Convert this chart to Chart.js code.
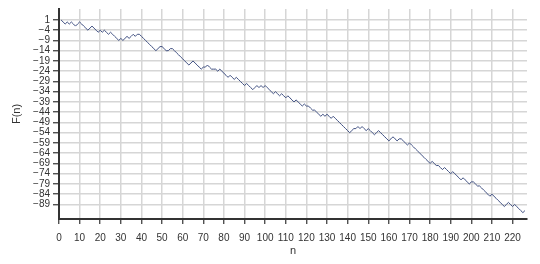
<!DOCTYPE html>
<html><head><meta charset="utf-8">
<script src="https://cdn.jsdelivr.net/npm/chart.js@4.4.1/dist/chart.umd.min.js"></script>
<style>html,body{margin:0;padding:0;background:#fff;}</style>
</head><body>
<canvas id="c" width="540" height="264" style="width:540px;height:264px;display:block"></canvas>
<script>
const nValues = [
  1,2,3,4,5,6,7,8,9,10,11,12,13,14,15,16,17,18,19,20,
  21,22,23,24,25,26,27,28,29,30,31,32,33,34,35,36,37,38,39,40,
  41,42,43,44,45,46,47,48,49,50,51,52,53,54,55,56,57,58,59,60,
  61,62,63,64,65,66,67,68,69,70,71,72,73,74,75,76,77,78,79,80,
  81,82,83,84,85,86,87,88,89,90,91,92,93,94,95,96,97,98,99,100,
  101,102,103,104,105,106,107,108,109,110,111,112,113,114,115,116,117,118,119,120,
  121,122,123,124,125,126,127,128,129,130,131,132,133,134,135,136,137,138,139,140,
  141,142,143,144,145,146,147,148,149,150,151,152,153,154,155,156,157,158,159,160,
  161,162,163,164,165,166,167,168,169,170,171,172,173,174,175,176,177,178,179,180,
  181,182,183,184,185,186,187,188,189,190,191,192,193,194,195,196,197,198,199,200,
  201,202,203,204,205,206,207,208,209,210,211,212,213,214,215,216,217,218,219,220,
  221,222,223,224,225,226
];
const fValues = [
  1,0,-1,0,-1,0,-1,-2,-1,0,
  -1,-2,-3,-4,-3,-2,-3,-4,-5,-4,
  -5,-4,-5,-6,-5,-6,-7,-8,-9,-8,
  -9,-8,-7,-8,-7,-6,-7,-6,-6,-7,
  -8,-9,-10,-11,-12,-13,-14,-13,-12,-12,
  -13,-14,-14,-13,-13,-14,-15,-16,-17,-18,
  -19,-20,-21,-20,-19,-20,-21,-22,-23,-22,
  -22,-21,-22,-23,-23,-23,-24,-23,-24,-25,
  -26,-27,-26,-27,-28,-27,-28,-29,-30,-31,
  -30,-31,-32,-33,-32,-31,-32,-31,-32,-31,
  -32,-33,-34,-35,-34,-35,-36,-35,-36,-37,
  -36,-37,-38,-39,-38,-39,-40,-41,-40,-41,
  -41,-42,-43,-43,-44,-45,-46,-45,-46,-45,
  -46,-47,-46,-47,-48,-49,-50,-51,-52,-53,
  -54,-53,-52,-52,-51,-52,-51,-52,-53,-52,
  -53,-54,-55,-54,-53,-54,-55,-56,-57,-58,
  -57,-56,-57,-58,-57,-57,-58,-59,-60,-59,
  -60,-61,-62,-63,-64,-65,-66,-67,-68,-69,
  -68,-69,-70,-70,-71,-72,-71,-72,-73,-74,
  -73,-74,-75,-76,-77,-76,-77,-78,-79,-78,
  -78,-79,-80,-80,-81,-82,-83,-84,-85,-84,
  -85,-86,-87,-88,-89,-90,-89,-88,-89,-90,
  -89,-90,-91,-92,-93,-92
];
const xTickValues = [0,10,20,30,40,50,60,70,80,90,100,110,120,130,140,150,160,170,180,190,200,210,220];
const yTickValues = [1,-4,-9,-14,-19,-24,-29,-34,-39,-44,-49,-54,-59,-64,-69,-74,-79,-84,-89];
const xTitle = 'n';
const yTitle = 'F(n)';

const fontFamily = "'Liberation Sans', Arial, sans-serif";
const textColor = '#333333';
const gridColor = '#d6d6d6';
const axisColor = '#333333';

const points = nValues.map((n, i) => ({ x: n, y: fValues[i] }));

new Chart(document.getElementById('c'), {
  type: 'line',
  data: {
    datasets: [{
      data: points,
      borderColor: '#3f4f80',
      borderWidth: 1,
      pointRadius: 0,
      tension: 0,
      fill: false
    }]
  },
  options: {
    responsive: false,
    animation: false,
    devicePixelRatio: 1,
    layout: { padding: { top: 8, right: 13, left: 0, bottom: 0 } },
    plugins: { legend: { display: false }, tooltip: { enabled: false } },
    scales: {
      x: {
        type: 'linear',
        min: 0,
        max: 227,
        afterBuildTicks: s => { s.ticks = xTickValues.map(v => ({ value: v })); },
        afterFit: s => { s.height = 45; },
        grid: { color: gridColor, lineWidth: 1.5, tickLength: 5, tickColor: axisColor, tickWidth: 1.2 },
        border: { color: axisColor, width: 2 },
        ticks: { font: { family: fontFamily, size: 10 }, color: textColor, padding: 8, maxRotation: 0, autoSkip: false },
        title: { display: true, text: xTitle, font: { family: fontFamily, size: 11 }, color: textColor, padding: { top: 0, bottom: 6 } }
      },
      y: {
        type: 'linear',
        min: -96.1,
        max: 6.34,
        afterBuildTicks: s => { s.ticks = yTickValues.map(v => ({ value: v })); },
        afterFit: s => { s.width = 59; },
        grid: { color: gridColor, lineWidth: 1.5, tickLength: 6, tickColor: axisColor, tickWidth: 1.2 },
        border: { color: axisColor, width: 2 },
        ticks: {
          font: { family: fontFamily, size: 10 }, color: textColor, padding: 3, autoSkip: false,
          callback: v => String(v).replace('-', '\u2212')
        },
        title: { display: true, text: yTitle, font: { family: fontFamily, size: 11 }, color: textColor, padding: { top: 10, bottom: 0 } }
      }
    }
  }
});
</script>
</body></html>
